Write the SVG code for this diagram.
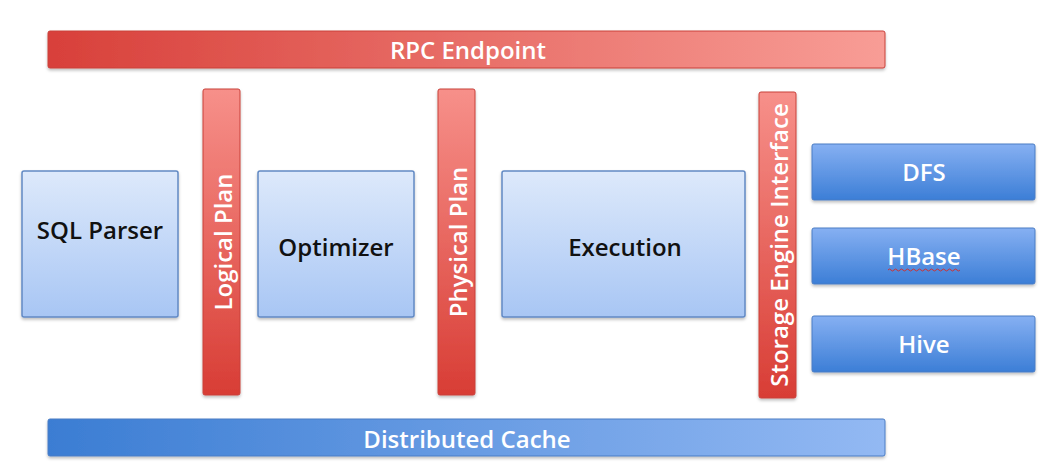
<svg xmlns="http://www.w3.org/2000/svg" width="1050" height="464" viewBox="0 0 1050 464">
<defs>
<linearGradient id="gLight" x1="0" y1="0" x2="0" y2="1"><stop offset="0" stop-color="#dde9fb"/><stop offset="1" stop-color="#a8c6f4"/></linearGradient>
<linearGradient id="gBlue" x1="0" y1="0" x2="0" y2="1"><stop offset="0" stop-color="#86b0f2"/><stop offset="1" stop-color="#3c7ed6"/></linearGradient>
<linearGradient id="gCache" x1="0" y1="0" x2="1" y2="0"><stop offset="0" stop-color="#3b7dd3"/><stop offset="1" stop-color="#93b9f3"/></linearGradient>
<linearGradient id="gRpc" x1="0" y1="0" x2="1" y2="0"><stop offset="0" stop-color="#d8403a"/><stop offset="1" stop-color="#f89d96"/></linearGradient>
<linearGradient id="gBar" x1="0" y1="0" x2="0" y2="1"><stop offset="0" stop-color="#f7908a"/><stop offset="1" stop-color="#d83d35"/></linearGradient>
<filter id="sh" x="-10%" y="-10%" width="120%" height="130%"><feDropShadow dx="0" dy="2" stdDeviation="1.5" flood-color="#000" flood-opacity="0.25"/></filter>
</defs>
<style>
.light{fill:url(#gLight);stroke:#6189c4;stroke-width:1.5;filter:url(#sh)}
.blue{fill:url(#gBlue);stroke:#4a7cc4;stroke-width:1;filter:url(#sh)}
.bar{fill:url(#gBar);stroke:#c9403a;stroke-width:1;filter:url(#sh)}
.dark{font-family:"Open Sans","Liberation Sans",sans-serif;font-weight:600;font-size:24px;fill:#111;text-anchor:middle;dominant-baseline:central}
.wt{font-family:"Open Sans","Liberation Sans",sans-serif;font-weight:600;font-size:24px;fill:#fff;text-anchor:middle;dominant-baseline:central}
</style>
<rect width="1050" height="464" fill="#ffffff"/>
<g id="rpc"><rect x="48" y="31" width="837" height="37" rx="2" fill="url(#gRpc)" stroke="#c9403a" stroke-width="1" filter="url(#sh)"/><text class="wt" x="468" y="49">RPC Endpoint</text></g>
<g id="logical-plan"><rect class="bar" x="203" y="89" width="37" height="306" rx="2"/><text class="wt" transform="translate(222 242) rotate(-90)">Logical Plan</text></g>
<g id="physical-plan"><rect class="bar" x="438" y="89" width="37" height="306" rx="2"/><text class="wt" transform="translate(457 242) rotate(-90)">Physical Plan</text></g>
<g id="storage-engine"><rect class="bar" x="759" y="92" width="37" height="306" rx="2"/><text class="wt" transform="translate(778 245) rotate(-90)">Storage Engine Interface</text></g>
<g id="sql-parser"><rect class="light" x="22" y="171" width="156" height="146" rx="2"/><text class="dark" x="100" y="229">SQL Parser</text></g>
<g id="optimizer"><rect class="light" x="258" y="171" width="156" height="146" rx="2"/><text class="dark" x="336" y="246">Optimizer</text></g>
<g id="execution"><rect class="light" x="502" y="171" width="243" height="146" rx="2"/><text class="dark" x="625" y="246">Execution</text></g>
<g id="dfs"><rect class="blue" x="812" y="144" width="223" height="56" rx="2"/><text class="wt" x="924" y="171">DFS</text></g>
<g id="hbase"><rect class="blue" x="812" y="228" width="223" height="56" rx="2"/><text class="wt" x="924" y="255">HBase</text><path d="M888 270 q1.5 -2 3 0 t3 0 t3 0 t3 0 t3 0 t3 0 t3 0 t3 0 t3 0 t3 0 t3 0 t3 0 t3 0 t3 0 t3 0 t3 0 t3 0 t3 0 t3 0 t3 0 t3 0 t3 0 t3 0 t3 0" fill="none" stroke="#d03030" stroke-width="1"/></g>
<g id="hive"><rect class="blue" x="812" y="316" width="223" height="56" rx="2"/><text class="wt" x="924" y="343">Hive</text></g>
<g id="cache"><rect x="48" y="419" width="837" height="37" rx="2" fill="url(#gCache)" stroke="#4a7cc4" stroke-width="1" filter="url(#sh)"/><text class="wt" x="467" y="438">Distributed Cache</text></g>
<g id="connectors"/>
</svg>
